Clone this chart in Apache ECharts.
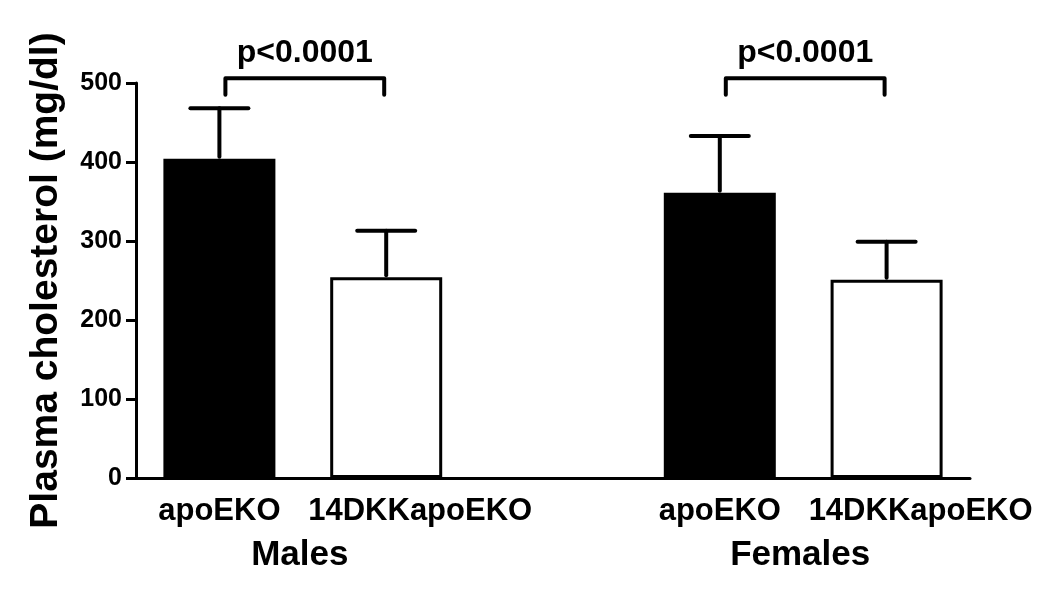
<!DOCTYPE html>
<html>
<head>
<meta charset="utf-8">
<script src="https://cdn.jsdelivr.net/npm/echarts@6/dist/echarts.min.js"></script>
<style>html,body{margin:0;padding:0;background:#fff}#c{width:1050px;height:591px}</style>
</head>
<body>
<div id="c"></div>
<script>
// ---- data ----
const categories = ['apoEKO', '14DKKapoEKO', '', 'apoEKO', '14DKKapoEKO'];
const means      = [404, 254, null, 361, 251];
const errTops    = [468, 313, null, 433, 299];
const groupNames = ['Males', 'Females'];
const groupSpans = [[0, 1], [3, 4]];
const pLabels    = ['p<0.0001', 'p<0.0001'];
const bracketTop = [506, 506];
const bracketLeg = [485, 485];
const yTicks     = [0, 100, 200, 300, 400, 500];

// ---- styles ----
const FONT = '"Liberation Sans", Arial, Helvetica, sans-serif';
const fills = ['#000', '#fff', '#fff', '#000', '#fff'];

const chart = echarts.init(document.getElementById('c'), null, {renderer: 'canvas'});

const barData = means.map((v, i) => v == null ? null : {value: v, itemStyle: {color: fills[i]}});
const errData = [];
means.forEach((v, i) => { if (v != null) errData.push([i, v, errTops[i]]); });
const bracketData = groupSpans.map((s, i) => [s[0], s[1], bracketTop[i], bracketLeg[i]]);
const groupData = groupSpans.map(s => [s[0], s[1]]);

chart.setOption({
  backgroundColor: '#fff',
  animation: false,
  grid: {left: 136, right: 80, top: 83, bottom: 113, containLabel: false},
  xAxis: {
    type: 'category',
    data: categories,
    axisLine: {lineStyle: {color: '#000', width: 3}},
    axisTick: {show: false},
    axisLabel: {
      interval: 0,
      margin: 18,
      formatter: (v) => v.length > 6 ? '{s|' + v + '}' : '{n|' + v + '}',
      rich: {
        n: {fontFamily: FONT, fontWeight: 'bold', fontSize: 31, color: '#000'},
        s: {fontFamily: FONT, fontWeight: 'bold', fontSize: 31, color: '#000', padding: [0, 0, 0, 68]}
      }
    }
  },
  yAxis: {
    type: 'value',
    min: 0, max: 500, interval: 100,
    name: 'Plasma cholesterol (mg/dl)',
    nameLocation: 'middle',
    nameGap: 70,
    nameRotate: 90,
    nameTextStyle: {fontFamily: FONT, fontWeight: 'bold', fontSize: 39, color: '#000'},
    axisLine: {show: true, lineStyle: {color: '#000', width: 3}},
    axisTick: {show: true, length: 10, lineStyle: {color: '#000', width: 3}},
    splitLine: {show: false},
    axisLabel: {
      margin: 14,
      fontFamily: FONT, fontWeight: 'bold', fontSize: 25, color: '#000',
      formatter: (v) => yTicks.indexOf(v) >= 0 ? String(v) : ''
    }
  },
  series: [
    {
      type: 'bar',
      data: barData,
      barWidth: 112,
      itemStyle: {borderColor: '#000', borderWidth: 3},
      z: 2
    },
    {
      type: 'custom',
      clip: false,
      z: 3,
      data: errData,
      renderItem: (params, api) => {
        const x = api.value(0);
        const b = api.coord([x, api.value(1)]);
        const t = api.coord([x, api.value(2)]);
        const half = 29;
        const st = {stroke: '#000', lineWidth: 4, lineCap: 'round'};
        return {
          type: 'group',
          children: [
            {type: 'line', shape: {x1: b[0], y1: b[1] - 2, x2: t[0], y2: t[1]}, style: st},
            {type: 'line', shape: {x1: t[0] - half, y1: t[1], x2: t[0] + half, y2: t[1]}, style: st}
          ]
        };
      }
    },
    {
      type: 'custom',
      clip: false,
      z: 3,
      data: bracketData,
      renderItem: (params, api) => {
        const a = api.coord([api.value(0), api.value(2)]);
        const b = api.coord([api.value(1), api.value(2)]);
        const legY = api.coord([api.value(0), api.value(3)])[1];
        const st = {stroke: '#000', lineWidth: 4, lineCap: 'round', lineJoin: 'round', fill: null};
        return {
          type: 'group',
          children: [
            {type: 'polyline', shape: {points: [[a[0] + 6, legY], [a[0] + 6, a[1]], [b[0] - 2, b[1]], [b[0] - 2, legY]]}, style: st},
            {type: 'text', x: (a[0] + b[0]) / 2 + 2, y: a[1] - 25,
             style: {text: pLabels[params.dataIndex], fontFamily: FONT, fontWeight: 'bold', fontSize: 32,
                     fill: '#000', align: 'center', verticalAlign: 'middle'}}
          ]
        };
      }
    },
    {
      type: 'custom',
      clip: false,
      z: 3,
      data: groupData,
      renderItem: (params, api) => {
        const a = api.coord([api.value(0), 0]);
        const b = api.coord([api.value(1), 0]);
        return {
          type: 'text',
          x: (a[0] + b[0]) / 2 - 3, y: a[1] + 77,
          style: {text: groupNames[params.dataIndex], fontFamily: FONT, fontWeight: 'bold', fontSize: 35,
                  fill: '#000', align: 'center', verticalAlign: 'middle'}
        };
      }
    }
  ]
});
</script>
</body>
</html>
